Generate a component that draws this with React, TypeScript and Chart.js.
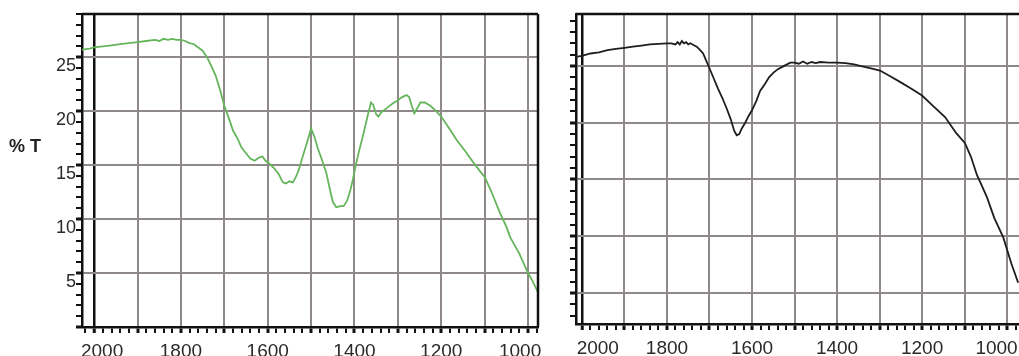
import React, { useEffect, useRef } from "react";
import { Chart, registerables } from "chart.js";

Chart.register(...registerables);

// ---------- data ----------
const leftWavenumbers = [
  2028, 2010, 2000, 1980, 1960, 1940, 1920, 1900, 1880, 1860, 1850, 1840, 1830, 1820, 1810, 1800,
  1790, 1780, 1770, 1760, 1750, 1740, 1730, 1720, 1710, 1700, 1690, 1680, 1670, 1660, 1650, 1640,
  1630, 1620, 1612, 1605, 1595, 1585, 1575, 1565, 1558, 1550, 1542, 1535, 1528, 1520, 1510, 1500,
  1492, 1485, 1475, 1465, 1458, 1450, 1442, 1432, 1425, 1417, 1410, 1404, 1398, 1390, 1380, 1370,
  1362, 1357, 1350, 1345, 1338, 1325, 1312, 1300, 1290, 1280, 1274, 1268, 1262, 1255, 1248, 1238,
  1225, 1212, 1200, 1180, 1164, 1145, 1127, 1110, 1100, 1085, 1065, 1050, 1041, 1020, 1000, 990, 977,
];
const leftTransmittance = [
  25.7, 25.8, 25.9, 26.0, 26.1, 26.2, 26.3, 26.4, 26.5, 26.6, 26.5, 26.7, 26.6, 26.7, 26.6, 26.6,
  26.5, 26.3, 26.2, 25.9, 25.6, 25.0, 24.2, 23.3, 22.0, 20.5, 19.4, 18.2, 17.5, 16.6, 16.1, 15.6,
  15.4, 15.7, 15.8, 15.4, 15.1, 14.7, 14.2, 13.4, 13.3, 13.5, 13.4, 13.9, 14.6, 15.7, 17.0, 18.4,
  17.6, 16.6, 15.5, 14.3, 13.0, 11.6, 11.1, 11.2, 11.2, 11.7, 12.6, 13.6, 14.8, 16.2, 17.8, 19.5,
  20.8, 20.6, 19.7, 19.5, 19.9, 20.3, 20.7, 21.0, 21.3, 21.5, 21.3, 20.5, 19.8, 20.3, 20.8, 20.8,
  20.5, 20.0, 19.5, 18.3, 17.3, 16.3, 15.3, 14.4, 13.9, 12.6, 10.6, 9.3, 8.3, 6.8, 5.0, 4.3, 3.2,
];

const rightWavenumbers = [
  2014, 2000, 1980, 1960, 1940, 1920, 1900, 1880, 1860, 1840, 1820, 1800, 1790, 1780, 1775, 1770,
  1765, 1760, 1755, 1750, 1745, 1740, 1730, 1722, 1715, 1708, 1700, 1690, 1680, 1670, 1660, 1650,
  1642, 1636, 1630, 1624, 1616, 1608, 1600, 1590, 1581, 1570, 1560, 1550, 1540, 1530, 1520, 1510,
  1500, 1490, 1480, 1470, 1460, 1450, 1440, 1420, 1400, 1380, 1360, 1346, 1320, 1299, 1275, 1252,
  1225, 1200, 1175, 1146, 1120, 1099, 1085, 1071, 1060, 1047, 1030, 1009, 990, 974,
];
const rightTransmittance = [
  25.8, 25.9, 26.1, 26.2, 26.4, 26.5, 26.6, 26.7, 26.8, 26.9, 26.95, 27.0, 27.0, 26.9, 27.1, 26.9,
  27.2, 27.0, 27.1, 26.9, 27.0, 26.9, 26.7, 26.4, 26.1, 25.5, 24.8, 23.9, 23.0, 22.2, 21.3, 20.3,
  19.3, 18.9, 19.0, 19.5, 20.0, 20.6, 21.1, 21.9, 22.8, 23.4, 24.0, 24.4, 24.7, 24.9, 25.1, 25.3,
  25.3, 25.2, 25.4, 25.2, 25.35, 25.25, 25.35, 25.3, 25.3, 25.25, 25.15, 25.0, 24.8, 24.6, 24.1, 23.6,
  23.0, 22.4, 21.5, 20.5, 19.1, 18.2, 17.0, 15.4, 14.5, 13.4, 11.6, 9.9, 7.6, 5.9,
];

const xTickLabels = [2000, 1800, 1600, 1400, 1200, 1000];
const yTickLabels = [5, 10, 15, 20, 25];
const yAxisTitle = "% T";

// ---------- helpers ----------
const GRID_GRAY = "#8f8888";
const FONT = "'Liberation Sans', Arial, sans-serif";

function range(a: number, b: number, step: number) {
  const out: number[] = [];
  if (step > 0) for (let v = a; v <= b + 1e-9; v += step) out.push(v);
  else for (let v = a; v >= b - 1e-9; v += step) out.push(v);
  return out;
}

const frameBorder = {
  id: "frameBorder",
  afterDraw(chart: any, _args: any, opts: any) {
    const { ctx, chartArea } = chart;
    ctx.save();
    ctx.strokeStyle = "#111";
    ctx.lineWidth = 2.5;
    ctx.beginPath();
    ctx.moveTo(chartArea.left, chartArea.top);
    ctx.lineTo(chartArea.right, chartArea.top);
    if (opts && opts.right) {
      ctx.moveTo(chartArea.right, chartArea.top);
      ctx.lineTo(chartArea.right, chartArea.bottom);
    }
    ctx.stroke();
    ctx.restore();
  },
};

function makeConfig(opts: {
  xs: number[];
  ys: number[];
  color: string;
  xMin: number;
  xMax: number;
  yMin: number;
  yMax: number;
  yWidth: number;
  xHeight: number;
  paddingRight: number;
  showYLabels: boolean;
  rightBorder: boolean;
  xMinorTicks: number[];
  yMinorTicks: number[];
  firstLabelPad: number;
  lastLabelPad: number;
}) {
  const data = opts.xs.map((x, i) => ({ x, y: opts.ys[i] }));
  const first = xTickLabels[0];
  const last = xTickLabels[xTickLabels.length - 1];
  return {
    type: "line" as const,
    data: {
      datasets: [
        {
          data,
          borderColor: opts.color,
          borderWidth: 1.8,
          pointRadius: 0,
          tension: 0,
          fill: false,
        },
      ],
    },
    options: {
      animation: false,
      responsive: false,
      maintainAspectRatio: false,
      events: [],
      layout: { padding: { top: 14, right: opts.paddingRight, left: 0, bottom: 0 } },
      plugins: {
        legend: { display: false },
        tooltip: { enabled: false },
        frameBorder: { right: opts.rightBorder },
      },
      scales: {
        x: {
          type: "linear",
          reverse: true,
          min: opts.xMin,
          max: opts.xMax,
          afterBuildTicks: (scale: any) => {
            scale.ticks = opts.xMinorTicks.map((v) => ({ value: v }));
          },
          afterFit: (scale: any) => {
            scale.height = opts.xHeight;
            scale.paddingLeft = 0;
            scale.paddingRight = 0;
          },
          border: { display: true, color: "#111", width: 2.5 },
          grid: {
            drawOnChartArea: true,
            drawTicks: true,
            tickLength: 6,
            color: (c: any) => {
              const v = c.tick ? c.tick.value : NaN;
              if (v === 2000) return "#111";
              return v % 100 === 0 ? GRID_GRAY : "rgba(0,0,0,0)";
            },
            lineWidth: (c: any) => {
              const v = c.tick ? c.tick.value : NaN;
              return v === 2000 ? 2.5 : 2;
            },
            tickColor: "#111",
            tickWidth: (c: any) => {
              const v = c.tick ? c.tick.value : NaN;
              return v % 100 === 0 ? 3 : 2;
            },
          },
          ticks: {
            autoSkip: false,
            maxRotation: 0,
            minRotation: 0,
            padding: 7,
            align: "center",
            color: "#2a2a2a",
            font: { family: FONT, size: 19 },
            callback: (v: any) => {
              const n = Number(v);
              if (!xTickLabels.includes(n)) return "";
              if (n === first) return " ".repeat(opts.firstLabelPad) + String(n);
              if (n === last) return String(n) + " ".repeat(opts.lastLabelPad);
              return String(n);
            },
          },
        },
        y: {
          type: "linear",
          min: opts.yMin,
          max: opts.yMax,
          afterBuildTicks: (scale: any) => {
            scale.ticks = opts.yMinorTicks.map((v) => ({ value: v }));
          },
          afterFit: (scale: any) => {
            scale.width = opts.yWidth;
            scale.paddingTop = 0;
            scale.paddingBottom = 0;
          },
          border: { display: true, color: "#111", width: 2.5 },
          grid: {
            drawOnChartArea: true,
            drawTicks: true,
            tickLength: 6,
            color: (c: any) => {
              const v = c.tick ? c.tick.value : NaN;
              return v % 5 === 0 && v > 0 ? GRID_GRAY : "rgba(0,0,0,0)";
            },
            lineWidth: 2,
            tickColor: "#111",
            tickWidth: (c: any) => {
              const v = c.tick ? c.tick.value : NaN;
              return v % 5 === 0 ? 3 : 2;
            },
          },
          ticks: {
            autoSkip: false,
            padding: 0,
            labelOffset: 9,
            color: "#2a2a2a",
            font: { family: FONT, size: 18 },
            callback: (v: any) =>
              opts.showYLabels && yTickLabels.includes(Number(v)) ? String(v) : "",
          },
        },
      },
    },
    plugins: [frameBorder],
  };
}

function Panel(props: { config: any; left: number; width: number; height: number }) {
  const ref = useRef<HTMLCanvasElement | null>(null);
  useEffect(() => {
    if (!ref.current) return;
    const chart = new Chart(ref.current, props.config);
    return () => chart.destroy();
  }, []);
  return (
    <canvas
      ref={ref}
      width={props.width}
      height={props.height}
      style={{
        position: "absolute",
        left: props.left,
        top: 0,
        width: props.width,
        height: props.height,
        background: "transparent",
      }}
    />
  );
}

export default function App() {
  const leftConfig = makeConfig({
    xs: leftWavenumbers,
    ys: leftTransmittance,
    color: "#66b55c",
    xMin: 977,
    xMax: 2028,
    yMin: 0,
    yMax: 29,
    yWidth: 82,
    xHeight: 29,
    paddingRight: 7,
    showYLabels: true,
    rightBorder: true,
    xMinorTicks: range(2020, 980, -20),
    yMinorTicks: range(0, 29, 1),
    firstLabelPad: 3,
    lastLabelPad: 3,
  });
  const rightConfig = makeConfig({
    xs: rightWavenumbers,
    ys: rightTransmittance,
    color: "#1e1e1e",
    xMin: 972,
    xMax: 2014,
    yMin: 2.27,
    yMax: 29.58,
    yWidth: 31,
    xHeight: 32,
    paddingRight: 0,
    showYLabels: false,
    rightBorder: false,
    xMinorTicks: range(2000, 980, -20),
    yMinorTicks: range(3, 29, 1),
    firstLabelPad: 6,
    lastLabelPad: 4,
  });
  return (
    <div
      style={{
        position: "fixed",
        left: 0,
        top: 0,
        width: 1019,
        height: 356,
        overflow: "hidden",
        background: "#ffffff",
      }}
    >
      <Panel config={leftConfig} left={0} width={545} height={356} />
      <Panel config={rightConfig} left={545} width={474} height={356} />
      <div
        style={{
          position: "absolute",
          left: 9,
          top: 136,
          fontFamily: FONT,
          fontWeight: "bold",
          fontSize: 18,
          color: "#222",
          whiteSpace: "nowrap",
        }}
      >
        {yAxisTitle}
      </div>
    </div>
  );
}
